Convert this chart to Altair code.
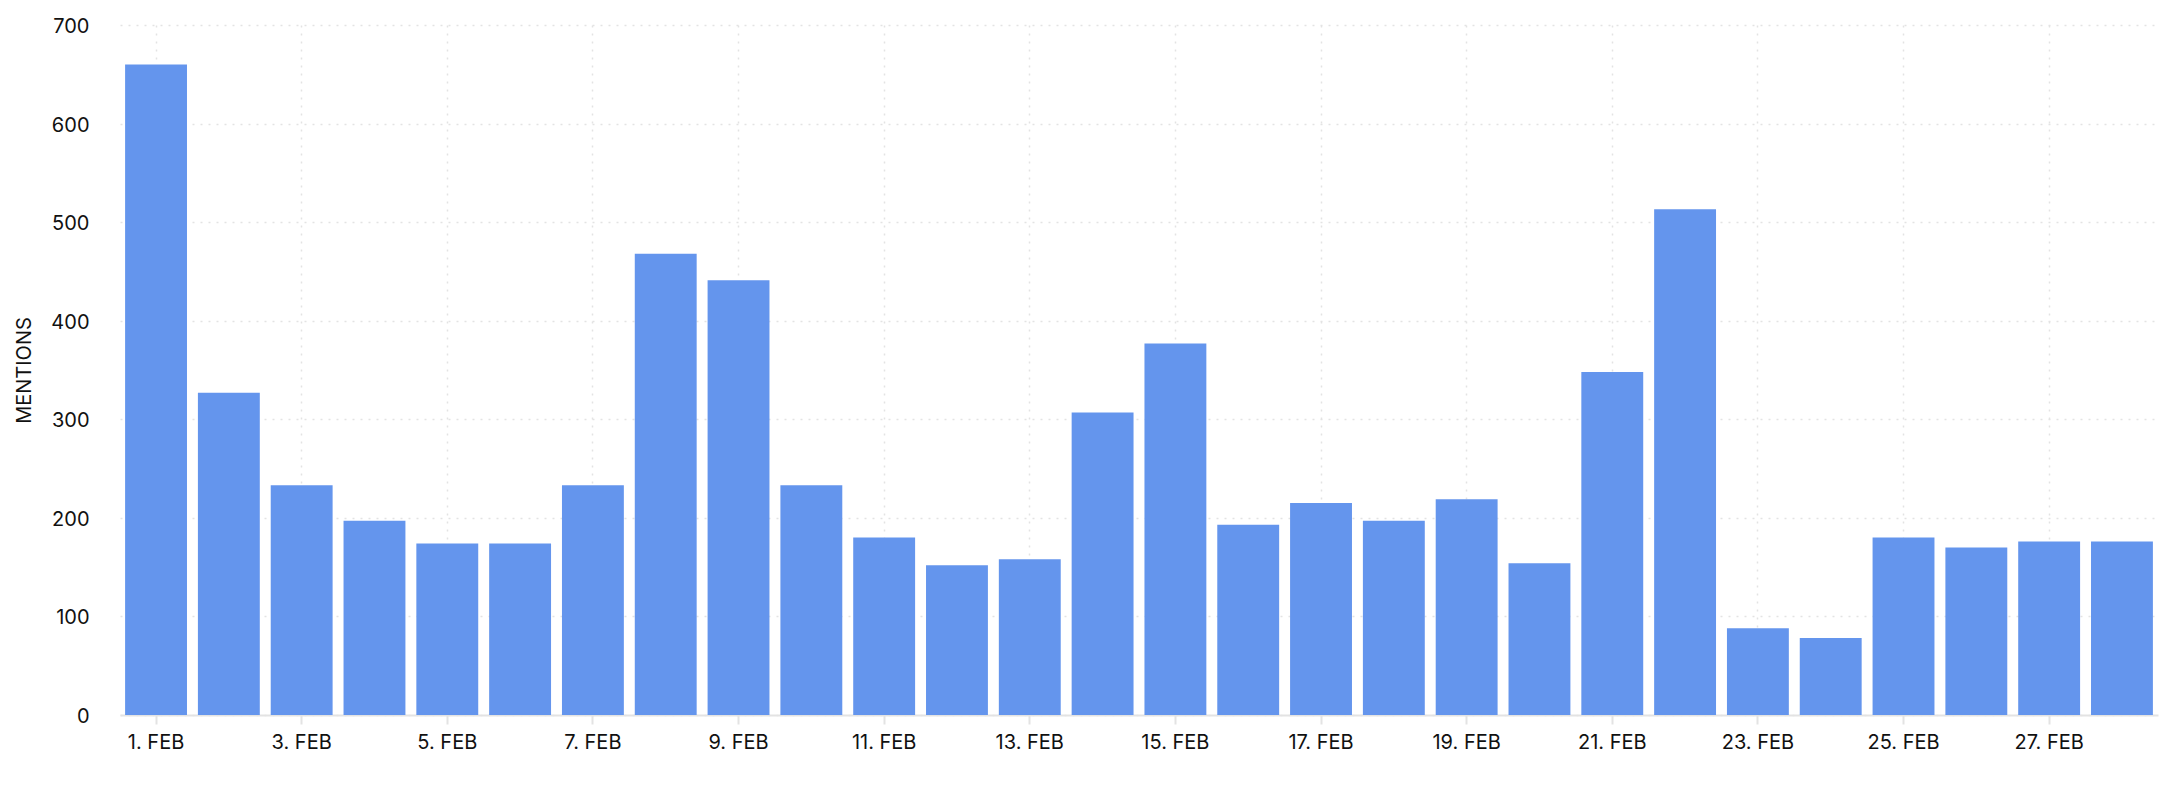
import altair as alt
import pandas as pd

days = [f"{i}. FEB" for i in range(1, 29)]
mentions = [660, 327, 233, 197, 174, 174, 233, 468, 441, 233, 180, 152, 158, 307,
            377, 193, 215, 197, 219, 154, 348, 513, 88, 78, 180, 170, 176, 176]
x_tick_labels = days[::2]
y_tick_values = [0, 100, 200, 300, 400, 500, 600, 700]

df = pd.DataFrame({"day": days, "mentions": mentions})

FONT = "Inter"
GRID = "#e3e3e3"

chart = alt.Chart(df).mark_bar(color="#6495ED").encode(
    x=alt.X(
        "day:N",
        sort=None,
        scale=alt.Scale(paddingInner=0.15, paddingOuter=0.07),
        axis=alt.Axis(
            title=None,
            values=x_tick_labels,
            labelAngle=0,
            bandPosition=0.5,
            grid=True,
            gridDash=[2, 6],
            gridColor=GRID,
            gridWidth=1.5,
            domainColor="#e3e3e3",
            domainWidth=2,
            tickColor="#e3e3e3",
            tickWidth=2,
            tickSize=9,
            labelPadding=8,
            labelFont=FONT,
            labelFontSize=20,
            labelColor="#111111",
        ),
    ),
    y=alt.Y(
        "mentions:Q",
        scale=alt.Scale(domain=[0, 700], nice=False),
        axis=alt.Axis(
            title="MENTIONS",
            values=y_tick_values,
            domain=False,
            ticks=False,
            grid=True,
            gridDash=[2, 6],
            gridColor=GRID,
            gridWidth=1.5,
            labelPadding=31,
            labelOffset=1.5,
            labelFont=FONT,
            labelFontSize=20,
            labelColor="#111111",
            titleFont=FONT,
            titleFontSize=20,
            titleFontWeight="normal",
            titleColor="#111111",
            titlePadding=16,
        ),
    ),
).properties(
    width=2038,
    height=690,
    padding={"left": 112, "top": 17, "right": 14, "bottom": 40},
    autosize=alt.AutoSizeParams(type="none"),
).configure_view(stroke=None)

chart.save("out.html", embed_options={"renderer": "svg", "actions": False})
